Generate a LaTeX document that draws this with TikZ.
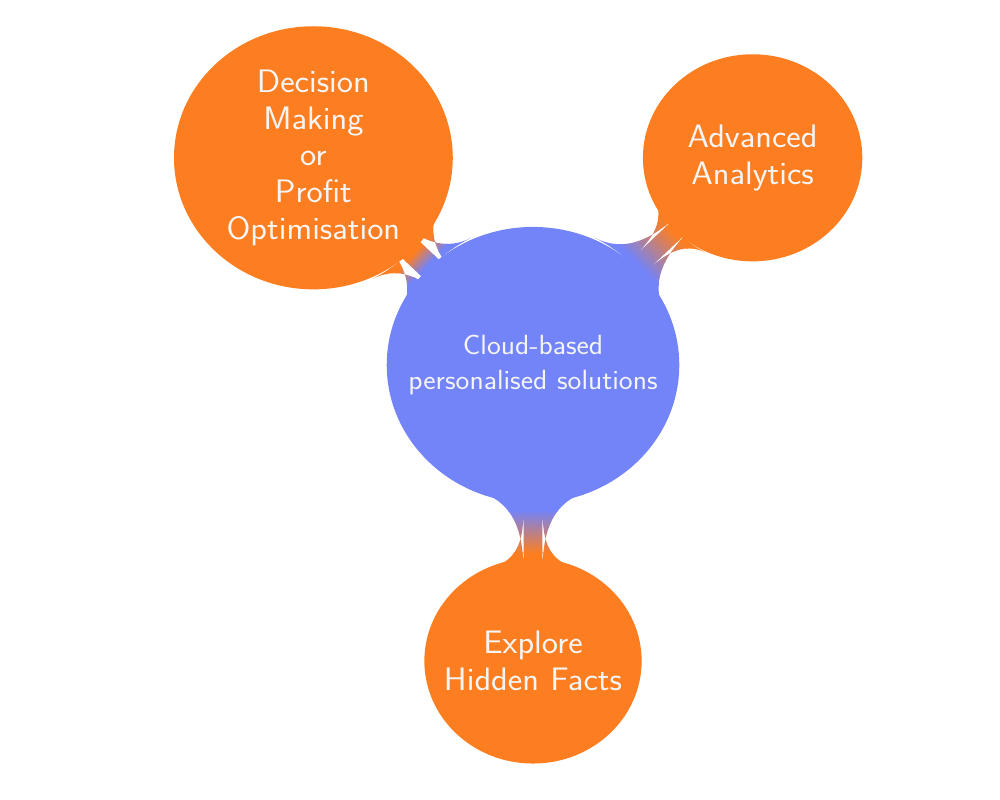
\documentclass[tikz,border=0pt]{standalone}
\usetikzlibrary{mindmap}
\definecolor{cblue}{RGB}{115,131,248}
\definecolor{corange}{RGB}{253,126,33}
\begin{document}
\begin{tikzpicture}
\useasboundingbox (0,0) rectangle (20,16);
\begin{scope}[shift={(10.66,8.7)}, xscale=1.06, transform shape,
  mindmap, concept color=cblue,
  every concept/.append style={text=white!96!black, font=\sffamily\fontsize{18.5}{21}\selectfont, align=center, inner sep=0pt}]
  \node[concept, minimum size=5.48cm, text width=5cm, font=\sffamily\fontsize{15.8}{20}\selectfont] (root) at (0,0)
    {Cloud-based\\ personalised solutions};
  \node[concept, concept color=corange, minimum size=5.22cm, text width=3.4cm] (dm) at (135:5.86)
    {Decision\\ Making\\ or\\ Profit\\ Optimisation};
  \node[concept, concept color=corange, minimum size=4.1cm, text width=3.4cm] (aa) at (45:5.86)
    {Advanced\\ Analytics};
  \node[concept, concept color=corange, minimum size=4.06cm, text width=3.4cm] (ex) at (-90:5.92)
    {Explore\\ Hidden Facts};
  \path (root) to[circle connection bar switch color=from (cblue) to (corange)] (dm);
  \path (root) to[circle connection bar switch color=from (cblue) to (corange)] (aa);
  \path (root) to[circle connection bar switch color=from (cblue) to (corange)] (ex);
\end{scope}
\end{tikzpicture}
\end{document}
